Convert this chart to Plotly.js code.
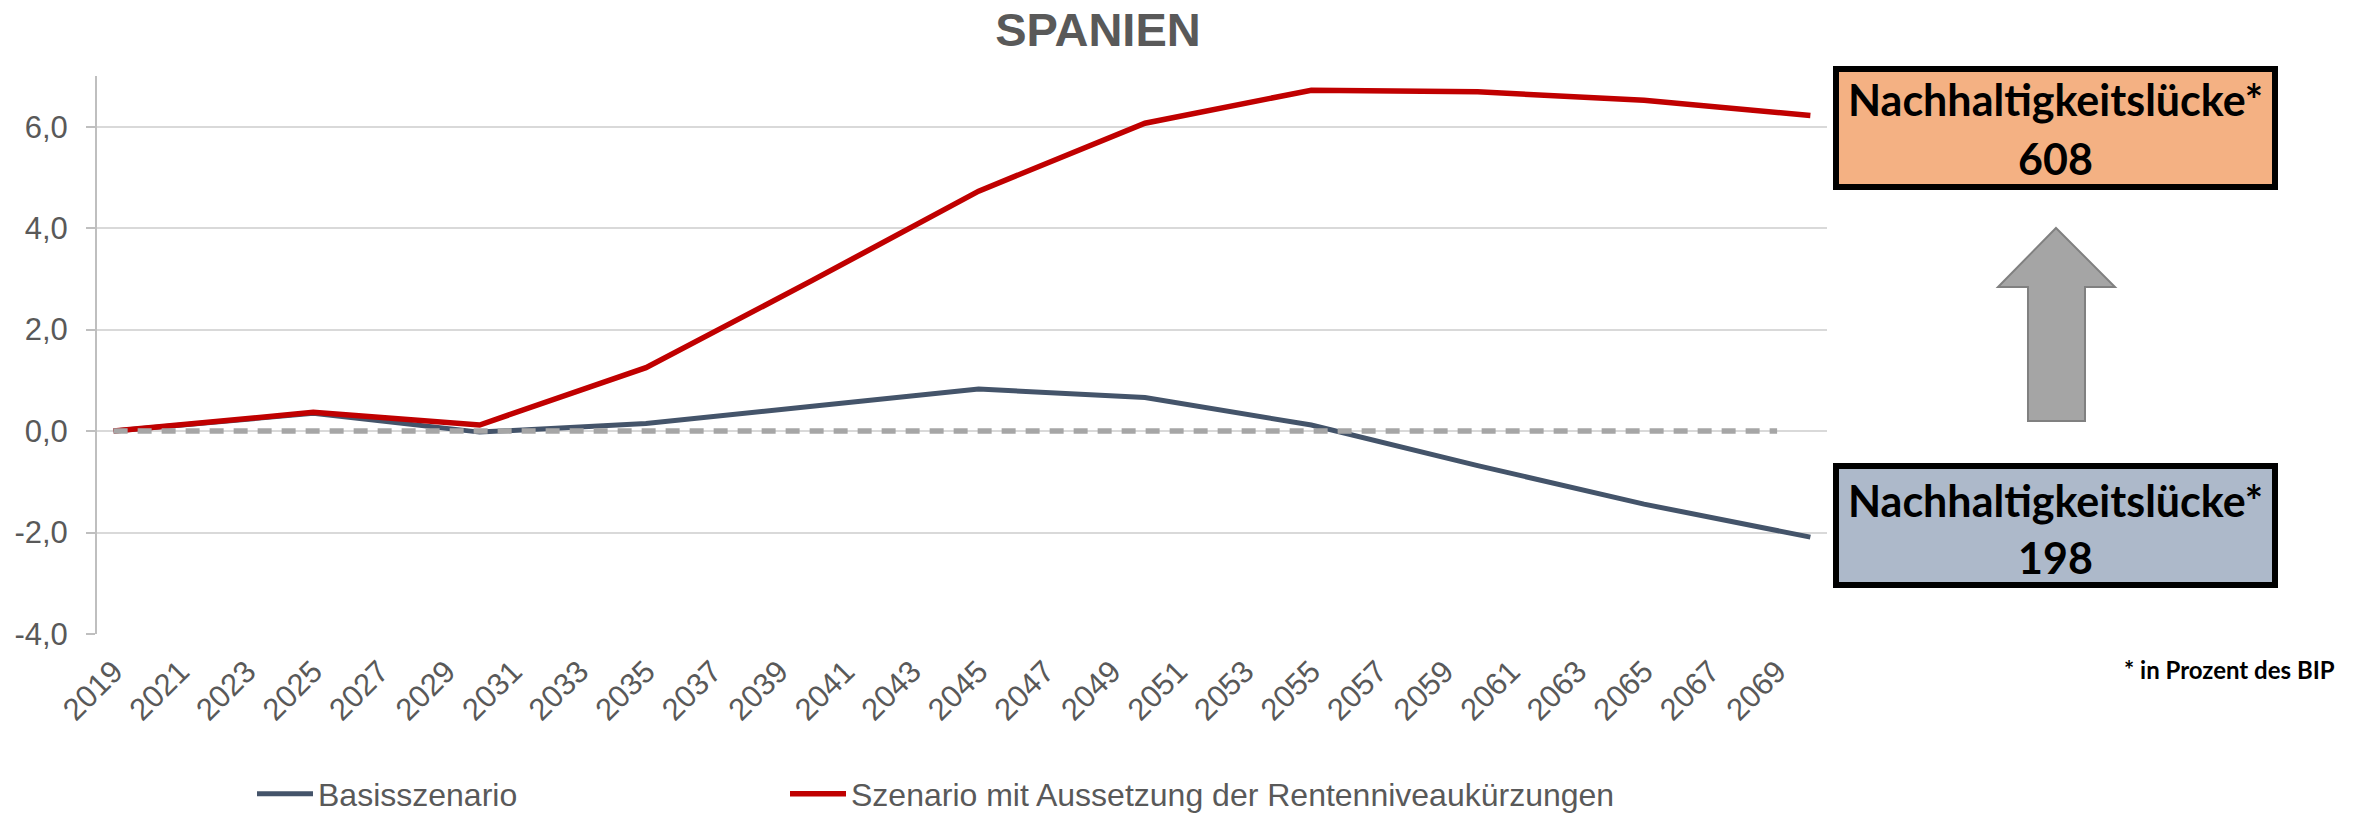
<!DOCTYPE html>
<html><head><meta charset="utf-8">
<script src="https://cdn.plot.ly/plotly-3.0.1.min.js"></script>
<style>html,body{margin:0;padding:0;background:#fff}#chart{width:2354px;height:817px}</style>
</head><body><div id="chart"></div>
<script>
// ---- data ----
const years = [2019, 2025, 2030, 2035, 2040, 2045, 2050, 2055, 2060, 2065, 2070];
const basisszenario = [0, 0.35, -0.02, 0.15, 0.49, 0.83, 0.66, 0.12, -0.68, -1.44, -2.09];
const szenarioAussetzung = [0, 0.37, 0.12, 1.25, 2.97, 4.73, 6.07, 6.72, 6.69, 6.52, 6.22];
const nullYears = [2019, 2069];
const nullValues = [0, 0];
const tickYears = [2019,2021,2023,2025,2027,2029,2031,2033,2035,2037,2039,2041,2043,2045,2047,2049,2051,2053,2055,2057,2059,2061,2063,2065,2067,2069];
const yTickValues = [-4, -2, 0, 2, 4, 6];
const yTickLabels = ['-4,0', '-2,0', '0,0', '2,0', '4,0', '6,0'];
const seriesNames = ['Basisszenario', 'Szenario mit Aussetzung der Rentenniveaukürzungen'];
const gapLabel = 'Nachhaltigkeitslücke*';
const gapSzenario = 608;
const gapBasis = 198;
const footnote = '* in Prozent des BIP';
const chartTitle = 'SPANIEN';

// ---- layout geometry (pixels) ----
const W = 2354, H = 817;
const M = {l: 97, r: 527, t: 76, b: 183};
const PW = W - M.l - M.r, PH = H - M.t - M.b;
const px = x => (x - M.l) / PW;
const py = y => (H - M.b - y) / PH;

const traces = [
  {x: years, y: basisszenario, name: seriesNames[0], type: 'scatter', mode: 'lines',
   line: {color: '#44546A', width: 5}, legend: 'legend'},
  {x: years, y: szenarioAussetzung, name: seriesNames[1], type: 'scatter', mode: 'lines',
   line: {color: '#C00000', width: 5.5}, legend: 'legend2'},
  {x: nullYears, y: nullValues, showlegend: false, type: 'scatter', mode: 'lines',
   line: {color: '#A6A6A6', width: 5.5, dash: '14px,10px'}}
];

const arrowPts = [[2056,228],[2115,287],[2085,287],[2085,421],[2028,421],[2028,287],[1998,287]];
const arrowPath = 'M' + arrowPts.map(p => px(p[0]).toFixed(5) + ',' + py(p[1]).toFixed(5)).join('L') + 'Z';

const shapes = [
  {type: 'rect', xref: 'paper', yref: 'paper', x0: px(1836), x1: px(2275), y0: py(69), y1: py(187),
   fillcolor: '#F4B183', line: {color: '#000000', width: 6}, layer: 'above'},
  {type: 'rect', xref: 'paper', yref: 'paper', x0: px(1836), x1: px(2275), y0: py(466), y1: py(585),
   fillcolor: '#ADB9CA', line: {color: '#000000', width: 6}, layer: 'above'},
  {type: 'path', xref: 'paper', yref: 'paper', path: arrowPath,
   fillcolor: '#A5A5A5', line: {color: '#808080', width: 2}, layer: 'above'}
];

const boxFont = {family: 'Lato, "Noto Sans", sans-serif', size: 43, color: '#000000', weight: 'bold'};
const annotations = [
  {xref: 'paper', yref: 'paper', x: px(2055.5), y: py(100), text: gapLabel, showarrow: false, font: boxFont, xanchor: 'center', yanchor: 'middle'},
  {xref: 'paper', yref: 'paper', x: px(2055.5), y: py(158), text: String(gapSzenario), showarrow: false, font: boxFont, xanchor: 'center', yanchor: 'middle'},
  {xref: 'paper', yref: 'paper', x: px(2055.5), y: py(500), text: gapLabel, showarrow: false, font: boxFont, xanchor: 'center', yanchor: 'middle'},
  {xref: 'paper', yref: 'paper', x: px(2055.5), y: py(557), text: String(gapBasis), showarrow: false, font: boxFont, xanchor: 'center', yanchor: 'middle'},
  {xref: 'paper', yref: 'paper', x: px(2229), y: py(669), text: footnote, showarrow: false,
   font: {family: 'Lato, "Noto Sans", sans-serif', size: 24, color: '#000000', weight: 'bold'}, xanchor: 'center', yanchor: 'middle'}
];

const legendFont = {family: '"Liberation Sans", Arial, sans-serif', size: 32, color: '#595959'};
const layout = {
  width: W, height: H,
  margin: M,
  paper_bgcolor: '#ffffff', plot_bgcolor: '#ffffff',
  font: {family: '"Liberation Sans", Arial, sans-serif', color: '#595959', size: 29},
  title: {text: chartTitle, x: 1098 / W, xref: 'container', xanchor: 'center',
          y: 1 - 30 / H, yref: 'container', yanchor: 'middle',
          font: {family: '"Liberation Sans", Arial, sans-serif', size: 47, color: '#595959', weight: 'bold'}},
  xaxis: {range: [2018.5, 2070.5], tickmode: 'array', tickvals: tickYears, ticktext: tickYears.map(String),
          tickangle: -45, showgrid: false, zeroline: false, showline: false, ticks: '', automargin: false,
          tickfont: {size: 31, color: '#595959'}, ticklabelstandoff: 12, fixedrange: true},
  yaxis: {range: [-4, 7], tickmode: 'array', tickvals: yTickValues, ticktext: yTickLabels,
          showgrid: true, gridcolor: '#D9D9D9', gridwidth: 2, automargin: false,
          zeroline: false, showline: true, linecolor: '#BFBFBF', linewidth: 2, ticks: 'outside', ticklen: 9,
          tickcolor: '#BFBFBF', tickwidth: 2, tickfont: {size: 31, color: '#595959'}, ticklabelstandoff: 12, fixedrange: true},
  legend: {orientation: 'h', xref: 'container', yref: 'container', x: 252 / W, y: 1 - 794 / H,
           xanchor: 'left', yanchor: 'middle', itemwidth: 56, font: legendFont},
  legend2: {orientation: 'h', xref: 'container', yref: 'container', x: 785 / W, y: 1 - 794 / H,
           xanchor: 'left', yanchor: 'middle', itemwidth: 56, font: legendFont},
  shapes: shapes,
  annotations: annotations,
  showlegend: true
};

Plotly.newPlot('chart', traces, layout, {displayModeBar: false, staticPlot: true});
</script>
</body></html>
